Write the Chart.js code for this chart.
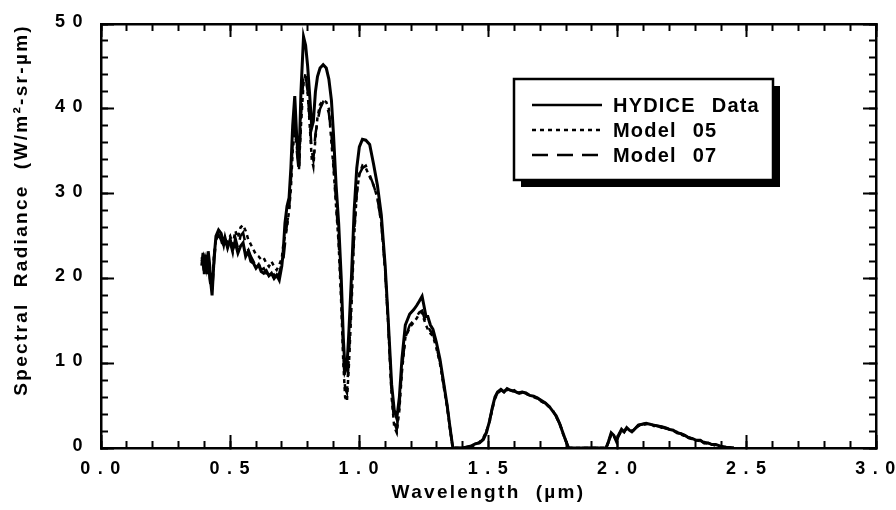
<!DOCTYPE html>
<html>
<head>
<meta charset="utf-8">
<script src="https://cdn.jsdelivr.net/npm/chart.js@4.4.1/dist/chart.umd.min.js"></script>
<style>
  html, body { margin: 0; padding: 0; background: #fff; }
  canvas { display: block; }
</style>
</head>
<body>
<canvas id="chart" width="896" height="510"></canvas>
<script>
// Wavelength grid (um)
const wavelength = [
    0.390, 0.395, 0.400, 0.405, 0.410, 0.415, 0.420, 0.425, 0.430, 0.438,
    0.445, 0.455, 0.465, 0.475, 0.480, 0.490, 0.500, 0.510, 0.520, 0.530,
    0.540, 0.550, 0.560, 0.570, 0.580, 0.590, 0.600, 0.610, 0.620, 0.630,
    0.640, 0.650, 0.660, 0.670, 0.680, 0.690, 0.700, 0.705, 0.712, 0.720,
    0.728, 0.735, 0.742, 0.750, 0.758, 0.766, 0.774, 0.784, 0.792, 0.800,
    0.808, 0.816, 0.822, 0.830, 0.838, 0.848, 0.860, 0.872, 0.882, 0.892,
    0.900, 0.910, 0.920, 0.930, 0.938, 0.945, 0.952, 0.960, 0.970, 0.980,
    0.990, 1.000, 1.012, 1.025, 1.040, 1.055, 1.070, 1.085, 1.100, 1.112,
    1.125, 1.135, 1.145, 1.155, 1.165, 1.178, 1.195, 1.210, 1.222, 1.232,
    1.243, 1.250, 1.258, 1.265, 1.275, 1.285, 1.298, 1.312, 1.325, 1.340,
    1.352, 1.362, 1.400, 1.430, 1.450, 1.465, 1.480, 1.492, 1.505, 1.515,
    1.525, 1.535, 1.548, 1.560, 1.572, 1.585, 1.600, 1.615, 1.630, 1.645,
    1.660, 1.675, 1.690, 1.705, 1.720, 1.735, 1.750, 1.762, 1.775, 1.788,
    1.800, 1.810, 1.955, 1.965, 1.975, 1.985, 1.995, 2.005, 2.015, 2.025,
    2.035, 2.045, 2.055, 2.068, 2.080, 2.095, 2.110, 2.125, 2.140, 2.155,
    2.170, 2.185, 2.200, 2.215, 2.230, 2.245, 2.260, 2.275, 2.290, 2.305,
    2.320, 2.335, 2.350, 2.365, 2.380, 2.400, 2.420, 2.450
];

// Spectral radiance (W/m2-sr-um)
const hydice = [
    21.5, 23.0, 20.5, 22.5, 21.0, 23.2, 21.8, 19.5, 18.0, 22.5,
    25.0, 25.7, 25.3, 24.0, 24.8, 23.6, 24.6, 23.4, 24.2, 23.0,
    23.8, 24.2, 22.6, 23.2, 22.0, 21.8, 21.2, 21.6, 20.8, 20.6,
    20.9, 20.3, 20.6, 20.0, 20.4, 19.8, 21.5, 23.0, 26.5, 28.5,
    29.5, 33.0, 38.0, 41.5, 36.5, 33.2, 42.0, 48.5, 47.5, 45.0,
    41.5, 37.8, 38.5, 42.0, 43.8, 44.8, 45.2, 44.8, 43.5, 41.0,
    37.0, 31.0, 26.5, 20.0, 13.0, 9.0, 9.5, 14.0, 20.5, 28.0,
    33.0, 35.5, 36.4, 36.3, 35.8, 33.5, 31.0, 27.5, 21.5, 15.0,
    7.5, 4.5, 3.5, 6.0, 10.5, 14.5, 15.8, 16.3, 16.8, 17.3,
    17.9, 16.8, 15.5, 15.5, 14.5, 14.0, 12.5, 10.5, 8.0, 5.0,
    2.2, 0, 0, 0.2, 0.5, 0.6, 1.0, 1.8, 3.3, 4.8,
    6.0, 6.6, 6.9, 6.6, 7.0, 6.8, 6.7, 6.5, 6.6, 6.5,
    6.2, 6.1, 5.9, 5.6, 5.3, 4.9, 4.3, 3.8, 2.9, 1.8,
    0.8, 0, 0, 0.8, 1.8, 1.5, 0.8, 1.6, 2.2, 1.9,
    2.4, 2.1, 1.9, 2.3, 2.7, 2.8, 2.9, 2.8, 2.7, 2.6,
    2.5, 2.4, 2.2, 2.1, 1.8, 1.7, 1.5, 1.2, 1.1, 0.9,
    0.9, 0.6, 0.6, 0.4, 0.4, 0.2, 0.1, 0
];

const model05 = [
    22.5, 21.5, 22.0, 23.0, 21.5, 22.8, 21.0, 20.5, 19.5, 23.0,
    24.5, 25.0, 24.6, 23.8, 24.0, 24.5, 25.0, 24.0, 25.6, 24.8,
    26.0, 26.3, 25.6, 24.6, 24.0, 23.4, 22.8, 22.6, 22.2, 22.4,
    21.8, 21.4, 22.0, 21.4, 21.0, 21.6, 22.4, 23.8, 25.0, 26.0,
    28.0, 30.5, 35.0, 37.5, 35.5, 33.0, 38.0, 43.0, 44.2, 42.0,
    38.0, 34.0, 33.2, 36.5, 39.0, 40.5, 41.0, 40.8, 40.0, 36.0,
    33.0, 28.5, 24.0, 17.0, 10.0, 6.0, 5.5, 10.0, 17.0, 25.0,
    30.0, 32.3, 33.3, 33.0, 32.0, 31.0, 29.5, 26.5, 21.0, 14.5,
    6.0, 2.5, 1.8, 4.5, 9.0, 13.0, 14.2, 14.8, 15.3, 15.8,
    16.0, 15.2, 14.5, 14.0, 13.5, 13.2, 11.8, 10.0, 7.5, 4.8,
    2.0, 0, 0, 0.1, 0.4, 0.7, 1.2, 2.0, 3.2, 4.6,
    5.8, 6.4, 6.8, 6.7, 6.9, 6.6, 6.8, 6.4, 6.5, 6.4,
    6.2, 6.0, 5.8, 5.5, 5.2, 4.9, 4.4, 3.6, 3.0, 1.7,
    0.8, 0, 0, 0.7, 1.6, 1.4, 1.0, 1.5, 2.0, 2.0,
    2.3, 2.2, 2.0, 2.2, 2.6, 2.7, 2.8, 2.9, 2.6, 2.6,
    2.4, 2.4, 2.2, 2.0, 1.9, 1.6, 1.4, 1.3, 1.0, 0.9,
    0.8, 0.7, 0.5, 0.4, 0.3, 0.2, 0.1, 0
];

const model07 = [
    22.0, 22.5, 21.0, 22.0, 20.5, 23.0, 20.0, 19.0, 18.5, 22.0,
    24.5, 25.2, 24.5, 23.5, 23.8, 24.0, 24.2, 23.0, 24.8, 23.6,
    25.0, 25.4, 24.0, 23.4, 22.6, 22.0, 21.4, 21.8, 21.0, 21.2,
    20.6, 20.8, 21.0, 20.4, 20.2, 20.6, 21.8, 22.0, 24.0, 26.5,
    28.0, 31.5, 36.0, 39.0, 35.0, 32.5, 39.0, 44.0, 44.0, 42.0,
    38.5, 35.0, 34.0, 37.0, 38.5, 40.0, 40.8, 40.5, 39.5, 37.0,
    33.5, 29.0, 24.5, 18.0, 11.0, 7.0, 6.5, 11.0, 18.0, 25.5,
    30.0, 32.3, 33.0, 33.3, 32.2, 31.0, 29.5, 26.5, 21.0, 14.5,
    6.5, 3.0, 2.2, 5.0, 9.5, 13.0, 14.5, 15.0, 15.5, 16.0,
    16.2, 15.5, 14.8, 14.4, 13.8, 13.5, 12.0, 10.2, 7.8, 5.0,
    2.1, 0, 0, 0.2, 0.5, 0.6, 1.1, 1.9, 3.4, 4.7,
    5.9, 6.5, 6.9, 6.6, 7.0, 6.7, 6.7, 6.5, 6.6, 6.4,
    6.2, 6.0, 5.9, 5.5, 5.3, 4.8, 4.4, 3.7, 2.9, 1.8,
    0.8, 0, 0, 0.8, 1.7, 1.5, 0.9, 1.6, 2.1, 1.9,
    2.4, 2.1, 1.9, 2.3, 2.7, 2.8, 2.9, 2.8, 2.7, 2.6,
    2.5, 2.3, 2.2, 2.1, 1.8, 1.7, 1.5, 1.2, 1.1, 0.8,
    0.9, 0.6, 0.6, 0.4, 0.3, 0.2, 0.1, 0
];

const seriesLabels = ['HYDICE Data', 'Model 05', 'Model 07'];

// axis ranges and tick steps
const xRange = [0, 3];
const xMajorStep = 0.5;
const xMinorStep = 0.1;
const yRange = [0, 50];
const yMajorStep = 10;
const yMinorStep = 2;

const FONT = '"Liberation Sans", Arial, Helvetica, sans-serif';

function toPoints(values) {
    return wavelength.map((w, i) => ({ x: w, y: values[i] }));
}

// inward tick marks without labels (minor ticks, and the top/right frame)
function tickOnlyAxis(position, range, step, len, weight, border) {
    return {
        type: 'linear',
        position: position,
        min: range[0],
        max: range[1],
        weight: weight,
        afterFit(scale) {
            if (scale.isHorizontal()) scale.height = 0;
            else scale.width = 0;
        },
        ticks: { display: false, stepSize: step },
        grid: { drawOnChartArea: false, drawTicks: true, tickLength: -len, tickWidth: 2, tickColor: '#000' },
        border: { display: border, color: '#000', width: 2.5 }
    };
}

// letter spacing: titles loose, tick numbers very loose
const spacingPlugin = {
    id: 'spacing',
    beforeDraw(chart) { chart.ctx.letterSpacing = '2.3px'; },
    afterDatasetsDraw(chart) { chart.ctx.letterSpacing = '7.5px'; },
    afterDraw(chart) { chart.ctx.letterSpacing = '0px'; }
};

// boxed legend with drop shadow, drawn inside the plot
const boxLegend = {
    id: 'boxLegend',
    afterDraw(chart, args, o) {
        const ctx = chart.ctx;
        ctx.save();
        ctx.fillStyle = '#000';
        ctx.fillRect(o.left + o.shadow, o.top + o.shadow, o.width, o.height);
        ctx.fillStyle = '#fff';
        ctx.fillRect(o.left, o.top, o.width, o.height);
        ctx.lineWidth = 2.5;
        ctx.strokeStyle = '#000';
        ctx.strokeRect(o.left, o.top, o.width, o.height);

        ctx.font = 'bold 20px ' + FONT;
        ctx.textBaseline = 'middle';
        ctx.fillStyle = '#000';
        chart.data.datasets.forEach((ds, i) => {
            const y = o.firstRow + i * o.rowGap;
            ctx.beginPath();
            ctx.setLineDash(ds.borderDash || []);
            ctx.lineWidth = 2.5;
            ctx.moveTo(o.lineStart, y);
            ctx.lineTo(o.lineEnd, y);
            ctx.stroke();
            ctx.setLineDash([]);
            ctx.letterSpacing = '1.2px';
            let x = o.textX;
            ds.label.split(' ').forEach(word => {
                ctx.fillText(word, x, y + 1);
                x += ctx.measureText(word).width + o.wordGap;
            });
        });
        ctx.restore();
    }
};

new Chart(document.getElementById('chart'), {
    type: 'line',
    data: {
        datasets: [
            {
                label: seriesLabels[0],
                data: toPoints(hydice),
                borderColor: '#000',
                borderWidth: 3,
                pointRadius: 0,
                tension: 0
            },
            {
                label: seriesLabels[1],
                data: toPoints(model05),
                borderColor: '#000',
                borderWidth: 2.5,
                borderDash: [4, 4],
                pointRadius: 0,
                tension: 0
            },
            {
                label: seriesLabels[2],
                data: toPoints(model07),
                borderColor: '#000',
                borderWidth: 2.5,
                borderDash: [16, 9],
                pointRadius: 0,
                tension: 0
            }
        ]
    },
    options: {
        responsive: false,
        animation: false,
        devicePixelRatio: 1,
        layout: { padding: { left: 0, right: 20, top: 24, bottom: 0 } },
        plugins: {
            legend: { display: false },
            tooltip: { enabled: false },
            boxLegend: {
                left: 514, top: 79, width: 259, height: 101, shadow: 7,
                firstRow: 105, rowGap: 25, lineStart: 532, lineEnd: 602,
                textX: 613, wordGap: 16
            }
        },
        scales: {
            x: {
                type: 'linear',
                position: 'bottom',
                min: xRange[0],
                max: xRange[1],
                weight: 1,
                afterFit(scale) {
                    scale.height = 62;
                    // keep the frame where the reference has it
                    scale.paddingLeft = 0;
                    scale.paddingRight = 0;
                },
                ticks: {
                    stepSize: xMajorStep,
                    autoSkip: false,
                    maxRotation: 0,
                    padding: 23,
                    labelOffset: 3,
                    z: 1,
                    color: '#000',
                    font: { family: FONT, size: 18, weight: 'bold' },
                    callback: v => v.toFixed(1)
                },
                grid: { drawOnChartArea: false, drawTicks: true, tickLength: -13, tickWidth: 2, tickColor: '#000' },
                border: { display: true, color: '#000', width: 2.5 },
                title: {
                    display: true,
                    text: 'Wavelength  (µm)',
                    color: '#000',
                    font: { family: FONT, size: 19, weight: 'bold' },
                    padding: { top: 0, bottom: 6 }
                }
            },
            xMinor: tickOnlyAxis('bottom', xRange, xMinorStep, 7, 0, false),
            xTop: tickOnlyAxis('top', xRange, xMajorStep, 13, 1, true),
            xTopMinor: tickOnlyAxis('top', xRange, xMinorStep, 7, 0, false),
            y: {
                type: 'linear',
                position: 'left',
                min: yRange[0],
                max: yRange[1],
                weight: 1,
                afterFit(scale) {
                    scale.width = 101;
                    scale.paddingTop = 0;
                    scale.paddingBottom = 0;
                },
                ticks: {
                    stepSize: yMajorStep,
                    padding: 24,
                    labelOffset: -2,
                    z: 1,
                    color: '#000',
                    font: { family: FONT, size: 18, weight: 'bold' }
                },
                grid: { drawOnChartArea: false, drawTicks: true, tickLength: -13, tickWidth: 2, tickColor: '#000' },
                border: { display: true, color: '#000', width: 2.5 },
                title: {
                    display: true,
                    text: 'Spectral  Radiance  (W/m²-sr-µm)',
                    align: 'end',
                    color: '#000',
                    font: { family: FONT, size: 19, weight: 'bold' },
                    padding: { top: 10, bottom: 0 }
                }
            },
            yMinor: tickOnlyAxis('left', yRange, yMinorStep, 7, 0, false),
            yRight: tickOnlyAxis('right', yRange, yMajorStep, 13, 1, true),
            yRightMinor: tickOnlyAxis('right', yRange, yMinorStep, 7, 0, false)
        }
    },
    plugins: [spacingPlugin, boxLegend]
});
</script>
</body>
</html>
